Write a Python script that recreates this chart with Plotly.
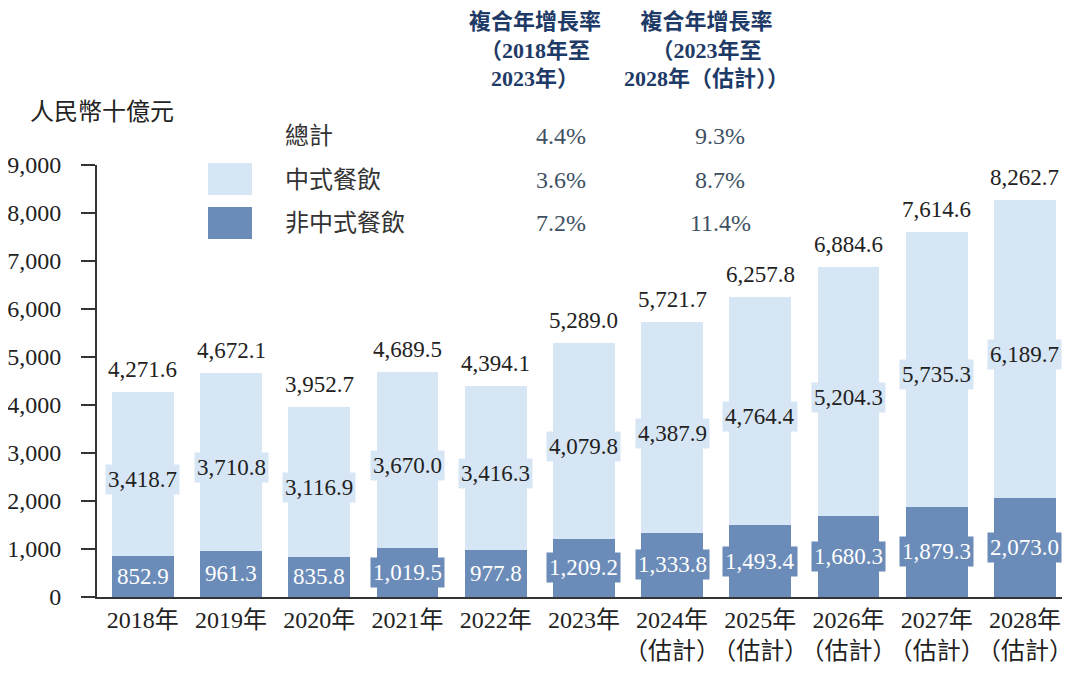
import plotly.graph_objects as go

years = ["2018年", "2019年", "2020年", "2021年", "2022年", "2023年",
         "2024年<br>（估計）", "2025年<br>（估計）", "2026年<br>（估計）",
         "2027年<br>（估計）", "2028年<br>（估計）"]
chinese = [3418.7, 3710.8, 3116.9, 3670.0, 3416.3, 4079.8, 4387.9, 4764.4, 5204.3, 5735.3, 6189.7]
non_chinese = [852.9, 961.3, 835.8, 1019.5, 977.8, 1209.2, 1333.8, 1493.4, 1680.3, 1879.3, 2073.0]
totals = [4271.6, 4672.1, 3952.7, 4689.5, 4394.1, 5289.0, 5721.7, 6257.8, 6884.6, 7614.6, 8262.7]

series_names = ["總計", "中式餐飲", "非中式餐飲"]
cagr_2018_2023 = ["4.4%", "3.6%", "7.2%"]
cagr_2023_2028 = ["9.3%", "8.7%", "11.4%"]
y_ticks = [0, 1000, 2000, 3000, 4000, 5000, 6000, 7000, 8000, 9000]

LIGHT = "#d7e6f5"
DARK = "#6b8bb8"
FONT = "Liberation Serif, 'Noto Sans CJK TC', serif"

x = list(range(len(years)))

fig = go.Figure()
fig.add_trace(go.Bar(x=x, y=non_chinese, marker=dict(color=DARK, line=dict(width=0)),
                     width=0.70, name=series_names[2], hoverinfo="y"))
fig.add_trace(go.Bar(x=x, y=chinese, marker=dict(color=LIGHT, line=dict(width=0)),
                     width=0.70, name=series_names[1], hoverinfo="y"))

annotations = []
for i in x:
    annotations.append(dict(x=i, y=non_chinese[i] / 2, xref="x", yref="y",
                            text=f"{non_chinese[i]:,.1f}", showarrow=False,
                            font=dict(family=FONT, size=23, color="white"),
                            bgcolor=DARK, borderpad=2))
    annotations.append(dict(x=i, y=non_chinese[i] + chinese[i] / 2 - 120, xref="x", yref="y",
                            text=f"{chinese[i]:,.1f}", showarrow=False,
                            font=dict(family=FONT, size=23, color="#222222"),
                            bgcolor=LIGHT, borderpad=2))
    annotations.append(dict(x=i, y=totals[i], xref="x", yref="y", yanchor="bottom",
                            yshift=8, text=f"{totals[i]:,.1f}", showarrow=False,
                            font=dict(family=FONT, size=23, color="#222222")))

# page has an 8px body margin; screen pixel = figure pixel + 8
OFF = 8
W, H = 1072, 667
L, R, T, B = 97 - OFF, 18, 165 - OFF, 78
PW, PH = W - L - R, H - T - B


def px(xs):
    return (xs - OFF - L) / PW


def py(ys):
    return (T + PH - (ys - OFF)) / PH


annotations.append(dict(x=px(28), y=py(112), xref="paper", yref="paper", xanchor="left",
                        yanchor="middle",
                        text="人民幣十億元", showarrow=False,
                        font=dict(family=FONT, size=24, color="#222222")))
HEAD = "#1e3a66"
annotations.append(dict(x=px(535), y=py(50), xref="paper", yref="paper", xanchor="center",
                        yanchor="middle", align="center",
                        text="<b>複合年增長率<br>（2018年至<br>2023年）</b>", showarrow=False,
                        font=dict(family=FONT, size=22, color=HEAD)))
annotations.append(dict(x=px(706), y=py(50), xref="paper", yref="paper", xanchor="center",
                        yanchor="middle", align="center",
                        text="<b>複合年增長率<br>（2023年至<br>2028年（估計））</b>", showarrow=False,
                        font=dict(family=FONT, size=22, color=HEAD)))
row_y = [136, 180, 223]
for k in range(3):
    annotations.append(dict(x=px(283), y=py(row_y[k]), xref="paper", yref="paper",
                            xanchor="left", yanchor="middle", text=series_names[k], showarrow=False,
                            font=dict(family=FONT, size=24, color="#333333")))
    annotations.append(dict(x=px(561), y=py(row_y[k]), xref="paper", yref="paper",
                            xanchor="center", yanchor="middle", text=cagr_2018_2023[k],
                            showarrow=False,
                            font=dict(family=FONT, size=24, color="#3e5163")))
    annotations.append(dict(x=px(720), y=py(row_y[k]), xref="paper", yref="paper",
                            xanchor="center", yanchor="middle", text=cagr_2023_2028[k],
                            showarrow=False,
                            font=dict(family=FONT, size=24, color="#3e5163")))

shapes = [
    dict(type="rect", xref="paper", yref="paper", x0=px(208), x1=px(252), y0=py(195), y1=py(163),
         fillcolor=LIGHT, line=dict(width=0)),
    dict(type="rect", xref="paper", yref="paper", x0=px(208), x1=px(252), y0=py(239), y1=py(207),
         fillcolor=DARK, line=dict(width=0)),
]

fig.update_layout(
    barmode="stack",
    width=W, height=H,
    margin=dict(l=L, r=R, t=T, b=B),
    plot_bgcolor="white", paper_bgcolor="white",
    showlegend=False,
    annotations=annotations,
    shapes=shapes,
    font=dict(family=FONT, size=23, color="#222222"),
    xaxis=dict(tickmode="array", tickvals=x, ticktext=years, range=[-0.52, 10.42],
               tickangle=0, automargin=False,
               showline=True, linecolor="#333333", linewidth=2, ticks="",
               showgrid=False, zeroline=False, tickfont=dict(family=FONT, size=24, color="#222222")),
    yaxis=dict(range=[0, 9000], tickmode="array", tickvals=y_ticks,
               ticktext=[f"{v:,}" for v in y_ticks], automargin=False,
               showline=True, linecolor="#333333", linewidth=2, ticks="outside", ticklen=14,
               tickwidth=2, tickcolor="#333333", showgrid=False, zeroline=False,
               ticklabelstandoff=15,
               tickfont=dict(family=FONT, size=24, color="#222222")),
)

fig.write_html("out.html")
